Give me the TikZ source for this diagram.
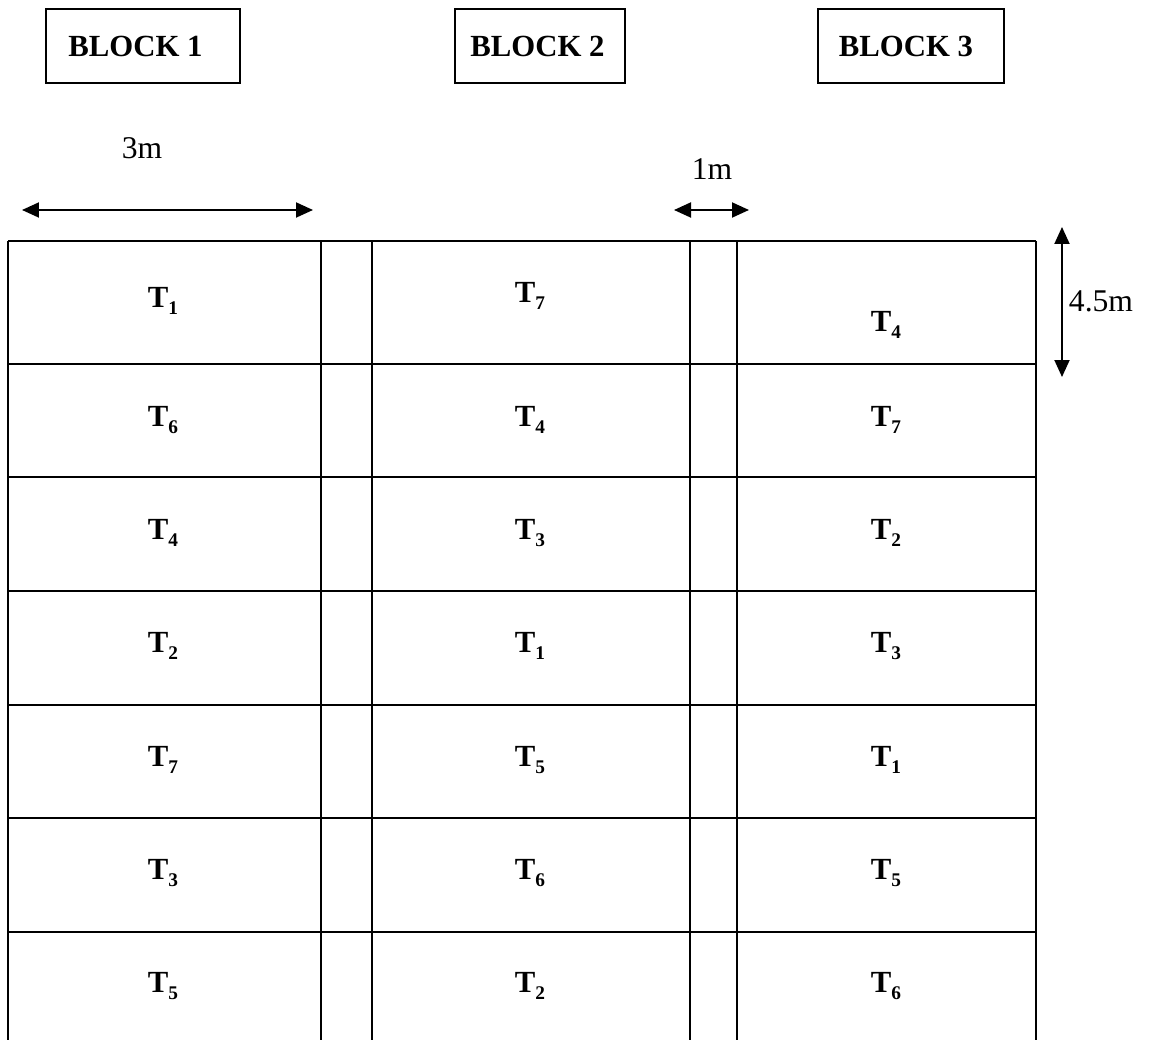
\documentclass[tikz,border=0pt]{standalone}
\usepackage{fontspec}
\setmainfont{Liberation Serif}
\usetikzlibrary{arrows.meta}
\newcommand\tlab[1]{\textbf{T\raisebox{-0.5ex}{\fontsize{11}{11}\selectfont\bfseries #1}}}
\tikzset{
  gridline/.style={line width=0.9pt},
  blockbox/.style={draw, line width=1.1pt, minimum height=1.48cm, font=\fontsize{17.5}{17.5}\selectfont\bfseries, inner sep=0pt},
  celltext/.style={font=\fontsize{17.5}{17.5}\selectfont, inner sep=0pt},
  dimtext/.style={font=\fontsize{18}{18}\selectfont, inner sep=0pt},
  dimarrow/.style={line width=1.1pt, arrows={Triangle[length=0.34cm,width=0.3cm]-Triangle[length=0.34cm,width=0.3cm]}}
}
\begin{document}
\begin{tikzpicture}[x=0.02cm,y=-0.02cm]
\useasboundingbox (0,0) rectangle (1161,1040);
% block headers
\node[blockbox, minimum width=3.88cm] (b1) at (143,46) {BLOCK 1\hspace*{0.3cm}};
\node[blockbox, minimum width=3.40cm] (b2) at (540,46) {BLOCK 2\hspace*{0.1cm}};
\node[blockbox, minimum width=3.72cm] (b3) at (911,46) {BLOCK 3\hspace*{0.2cm}};
% grid
\foreach \y in {241,364,477,591,705,818,932}
  \draw[gridline] (8,\y) -- (1036,\y);
\foreach \x in {8,321,372,690,737,1036}
  \draw[gridline] (\x,241) -- (\x,1040);
% cell labels
\node[celltext] (c11) at (163,301) {\tlab{1}};
\node[celltext] (c12) at (163,420) {\tlab{6}};
\node[celltext] (c13) at (163,533) {\tlab{4}};
\node[celltext] (c14) at (163,646) {\tlab{2}};
\node[celltext] (c15) at (163,760) {\tlab{7}};
\node[celltext] (c16) at (163,873) {\tlab{3}};
\node[celltext] (c17) at (163,986) {\tlab{5}};
\node[celltext] (c21) at (530,296) {\tlab{7}};
\node[celltext] (c22) at (530,420) {\tlab{4}};
\node[celltext] (c23) at (530,533) {\tlab{3}};
\node[celltext] (c24) at (530,646) {\tlab{1}};
\node[celltext] (c25) at (530,760) {\tlab{5}};
\node[celltext] (c26) at (530,873) {\tlab{6}};
\node[celltext] (c27) at (530,986) {\tlab{2}};
\node[celltext] (c31) at (886,325) {\tlab{4}};
\node[celltext] (c32) at (886,420) {\tlab{7}};
\node[celltext] (c33) at (886,533) {\tlab{2}};
\node[celltext] (c34) at (886,646) {\tlab{3}};
\node[celltext] (c35) at (886,760) {\tlab{1}};
\node[celltext] (c36) at (886,873) {\tlab{5}};
\node[celltext] (c37) at (886,986) {\tlab{6}};
% dimensions
\coordinate (w1a) at (22,210);
\coordinate (w1b) at (313,210);
\draw[dimarrow] (w1a) -- (w1b);
\node[dimtext] (l3m) at (142,148) {3m};
\coordinate (w2a) at (674,210);
\coordinate (w2b) at (749,210);
\draw[dimarrow] (w2a) -- (w2b);
\node[dimtext] (l1m) at (712,169) {1m};
\coordinate (h1a) at (1062,227);
\coordinate (h1b) at (1062,377);
\draw[dimarrow] (h1a) -- (h1b);
\node[dimtext] (l45) at (1101,301) {4.5m};
\end{tikzpicture}
\end{document}
